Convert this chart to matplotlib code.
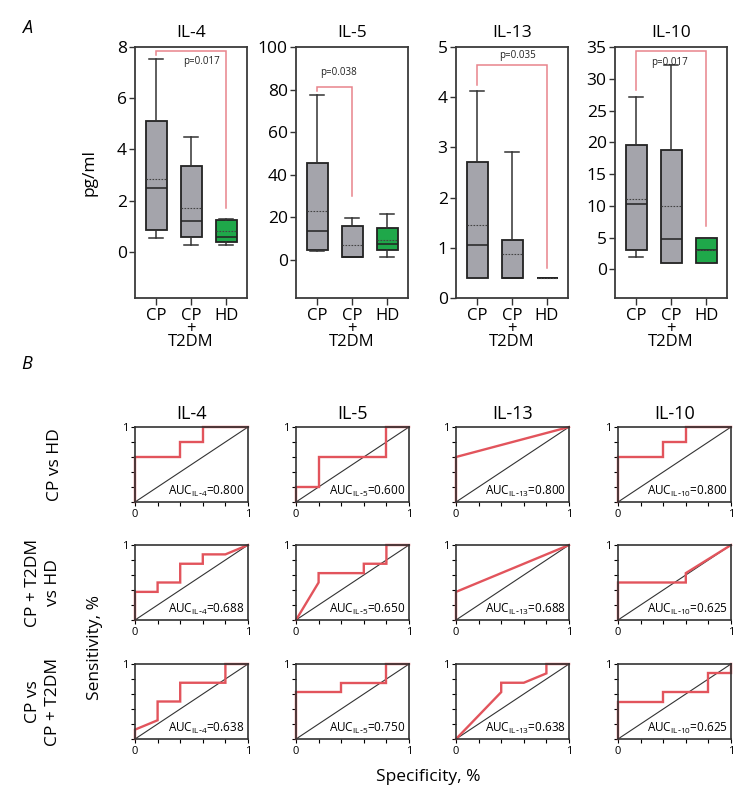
import matplotlib
matplotlib.use("Agg")
import matplotlib.pyplot as plt

plt.rcParams['font.family'] = ['Open Sans', 'DejaVu Sans']

W, H = 750, 811

cytokines = ["IL-4", "IL-5", "IL-13", "IL-10"]
groups = ["CP", "CP\n+\nT2DM", "HD"]
positions = [1, 2, 3]

# box statistics, order: CP, CP+T2DM, HD
box_lo = {"IL-4": [0.55, 0.25, 0.25], "IL-5": [4.0, 1.5, 1.5],
          "IL-13": [0.4, 0.4, 0.4], "IL-10": [2.0, 1.0, 1.0]}
box_q1 = {"IL-4": [0.85, 0.6, 0.4], "IL-5": [4.5, 1.5, 4.5],
          "IL-13": [0.4, 0.4, 0.4], "IL-10": [3.0, 1.0, 1.0]}
box_med = {"IL-4": [2.5, 1.2, 0.6], "IL-5": [13.5, 1.5, 7.5],
           "IL-13": [1.05, 0.4, 0.4], "IL-10": [10.3, 4.8, 3.0]}
box_q3 = {"IL-4": [5.1, 3.35, 1.25], "IL-5": [45.5, 16.0, 15.0],
          "IL-13": [2.7, 1.15, 0.4], "IL-10": [19.6, 18.8, 4.9]}
box_hi = {"IL-4": [7.55, 4.5, 1.3], "IL-5": [77.5, 19.5, 21.5],
          "IL-13": [4.12, 2.9, 0.4], "IL-10": [27.2, 32.2, 4.9]}
box_mean = {"IL-4": [2.85, 1.7, 0.8], "IL-5": [23.0, 7.0, 9.5],
            "IL-13": [1.45, 0.88, 0.4], "IL-10": [11.1, 10.0, 3.0]}

ylims = {"IL-4": (-1.8, 8), "IL-5": (-18, 100), "IL-13": (0, 5), "IL-10": (-4.5, 35)}
yticks = {"IL-4": [0, 2, 4, 6, 8], "IL-5": [0, 20, 40, 60, 80, 100],
          "IL-13": [0, 1, 2, 3, 4, 5], "IL-10": [0, 5, 10, 15, 20, 25, 30, 35]}

# significance brackets: from group, to group, top, left end, right end
brk_groups = {"IL-4": (1, 3), "IL-5": (1, 2), "IL-13": (1, 3), "IL-10": (1, 3)}
brk_levels = {"IL-4": (7.85, 7.7, 1.7), "IL-5": (81, 79.5, 30),
              "IL-13": (4.65, 4.25, 0.6), "IL-10": (34.3, 28.3, 6.8)}
p_text = {"IL-4": "p=0.017", "IL-5": "p=0.038", "IL-13": "p=0.035", "IL-10": "p=0.017"}
p_pos = {"IL-4": (2.3, 7.45), "IL-5": (1.62, 88), "IL-13": (2.17, 4.83), "IL-10": (1.95, 32.6)}

# ROC curves, rows: CP vs HD, CP+T2DM vs HD, CP vs CP+T2DM
roc_rows = ["CP vs HD", "CP + T2DM\nvs HD", "CP vs\nCP + T2DM"]
roc_x = [
    {"IL-4": [0, 0, 0.4, 0.4, 0.6, 0.6, 1], "IL-5": [0, 0, 0.2, 0.2, 0.8, 0.8, 1],
     "IL-13": [0, 0, 1], "IL-10": [0, 0, 0.4, 0.4, 0.6, 0.6, 1]},
    {"IL-4": [0, 0, 0.2, 0.2, 0.4, 0.4, 0.6, 0.6, 0.8, 1],
     "IL-5": [0, 0.2, 0.2, 0.6, 0.6, 0.8, 0.8, 1],
     "IL-13": [0, 0, 1], "IL-10": [0, 0, 0.6, 0.6, 1]},
    {"IL-4": [0, 0, 0.2, 0.2, 0.4, 0.4, 0.8, 0.8, 1],
     "IL-5": [0, 0, 0.4, 0.4, 0.8, 0.8, 1],
     "IL-13": [0, 0.4, 0.4, 0.6, 0.8, 0.8, 1],
     "IL-10": [0, 0, 0.4, 0.4, 0.8, 0.8, 1, 1]},
]
roc_y = [
    {"IL-4": [0, 0.6, 0.6, 0.8, 0.8, 1, 1], "IL-5": [0, 0.2, 0.2, 0.6, 0.6, 1, 1],
     "IL-13": [0, 0.6, 1], "IL-10": [0, 0.6, 0.6, 0.8, 0.8, 1, 1]},
    {"IL-4": [0, 0.375, 0.375, 0.5, 0.5, 0.75, 0.75, 0.875, 0.875, 1],
     "IL-5": [0, 0.5, 0.625, 0.625, 0.75, 0.75, 1, 1],
     "IL-13": [0, 0.375, 1], "IL-10": [0, 0.5, 0.5, 0.625, 1]},
    {"IL-4": [0, 0.125, 0.25, 0.5, 0.5, 0.75, 0.75, 1, 1],
     "IL-5": [0, 0.625, 0.625, 0.75, 0.75, 1, 1],
     "IL-13": [0, 0.625, 0.75, 0.75, 0.875, 1, 1],
     "IL-10": [0, 0.5, 0.5, 0.625, 0.625, 0.875, 0.875, 1]},
]
auc = [
    {"IL-4": "0.800", "IL-5": "0.600", "IL-13": "0.800", "IL-10": "0.800"},
    {"IL-4": "0.688", "IL-5": "0.650", "IL-13": "0.688", "IL-10": "0.625"},
    {"IL-4": "0.638", "IL-5": "0.750", "IL-13": "0.638", "IL-10": "0.625"},
]

gray = "#a4a4ab"
green = "#1fa84a"
red = "#e2545c"
pink = "#e8848c"


def box(px_left, px_top, px_w, px_h):
    return [px_left / W, 1 - (px_top + px_h) / H, px_w / W, px_h / H]


fig = plt.figure(figsize=(W / 100, H / 100), dpi=100)

# panel A
a_lefts = [135, 296, 456, 615]
for i, name in enumerate(cytokines):
    ax = fig.add_axes(box(a_lefts[i], 47, 112, 251))
    stats = []
    for j in range(3):
        stats.append(dict(med=box_med[name][j], q1=box_q1[name][j], q3=box_q3[name][j],
                          whislo=box_lo[name][j], whishi=box_hi[name][j],
                          mean=box_mean[name][j], fliers=[]))
    bp = ax.bxp(stats, positions=positions, widths=0.6, capwidths=0.42,
                patch_artist=True, showmeans=True, meanline=True,
                boxprops=dict(edgecolor="#222222", linewidth=1.3),
                medianprops=dict(color="#222222", linewidth=1.1),
                meanprops=dict(color="#444444", linestyle=(0, (1.5, 1.2)), linewidth=0.8),
                whiskerprops=dict(color="#333333", linewidth=1.1),
                capprops=dict(color="#333333", linewidth=1.1))
    for patch, c in zip(bp["boxes"], [gray, gray, green]):
        patch.set_facecolor(c)

    g0, g1 = brk_groups[name]
    top, left_end, right_end = brk_levels[name]
    ax.plot([g0, g0, g1, g1], [left_end, top, top, right_end], color=pink, lw=1.1,
            solid_joinstyle="miter")
    ax.text(p_pos[name][0], p_pos[name][1], p_text[name], fontsize=7,
            ha="center", va="center", color="#222222")

    ax.set_xlim(0.4, 3.6)
    ax.set_ylim(*ylims[name])
    ax.set_yticks(yticks[name])
    ax.set_xticks(positions)
    ax.set_xticklabels(groups, fontsize=12, linespacing=0.75)
    ax.tick_params(axis="y", labelsize=12.5, length=4, width=1, pad=2, color="#333333")
    ax.tick_params(axis="x", length=5, width=1, pad=2, color="#333333")
    for sp in ax.spines.values():
        sp.set_color("#3a3a3a")
        sp.set_linewidth(1.3)
    ax.set_title(name, fontsize=12.5, pad=7)
    if i == 0:
        ax.set_ylabel("pg/ml", fontsize=12.5, labelpad=14)

# panel B
b_lefts = [135, 296, 456, 618]
b_tops = [427, 545, 664]
for r in range(3):
    for i, name in enumerate(cytokines):
        ax = fig.add_axes(box(b_lefts[i], b_tops[r], 113, 75))
        ax.plot([0, 1], [0, 1], color="#333333", lw=0.8)
        ax.plot(roc_x[r][name], roc_y[r][name], color=red, lw=1.7,
                solid_joinstyle="miter", clip_on=False)
        sub = name.replace("-", r"\text{-}")
        ax.text(0.97, 0.09, r"AUC$_{\mathregular{" + sub + r"}}$=" + auc[r][name],
                transform=ax.transAxes, fontsize=8.5, ha="right", va="baseline")
        ax.set_xlim(0, 1)
        ax.set_ylim(0, 1)
        ticks = [0, 0.2, 0.4, 0.6, 0.8, 1]
        ax.set_xticks(ticks)
        ax.set_yticks(ticks)
        ax.set_xticklabels(["0", "", "", "", "", "1"])
        ax.set_yticklabels(["", "", "", "", "", "1"])
        ax.tick_params(labelsize=8, length=3, width=0.8, pad=2)
        for sp in ax.spines.values():
            sp.set_color("#333333")
            sp.set_linewidth(1.2)
        if r == 0:
            ax.set_title(name, fontsize=13, pad=6)

row_centers = [t + 37.5 for t in b_tops]
row_x = [55, 43, 43]
for r in range(3):
    fig.text(row_x[r] / W, 1 - row_centers[r] / H, roc_rows[r], rotation=90,
             fontsize=12.5, ha="center", va="center", multialignment="center",
             linespacing=1.35)
fig.text(95 / W, 1 - 647 / H, "Sensitivity, %", rotation=90, fontsize=12.5,
         ha="center", va="center")
fig.text(428 / W, 1 - 777 / H, "Specificity, %", fontsize=12.5, ha="center", va="center")

fig.text(27 / W, 1 - 28 / H, "A", fontsize=13, style="italic", ha="center", va="center")
fig.text(27 / W, 1 - 364 / H, "B", fontsize=13, style="italic", ha="center", va="center")

fig.savefig("out.png", dpi=100)
